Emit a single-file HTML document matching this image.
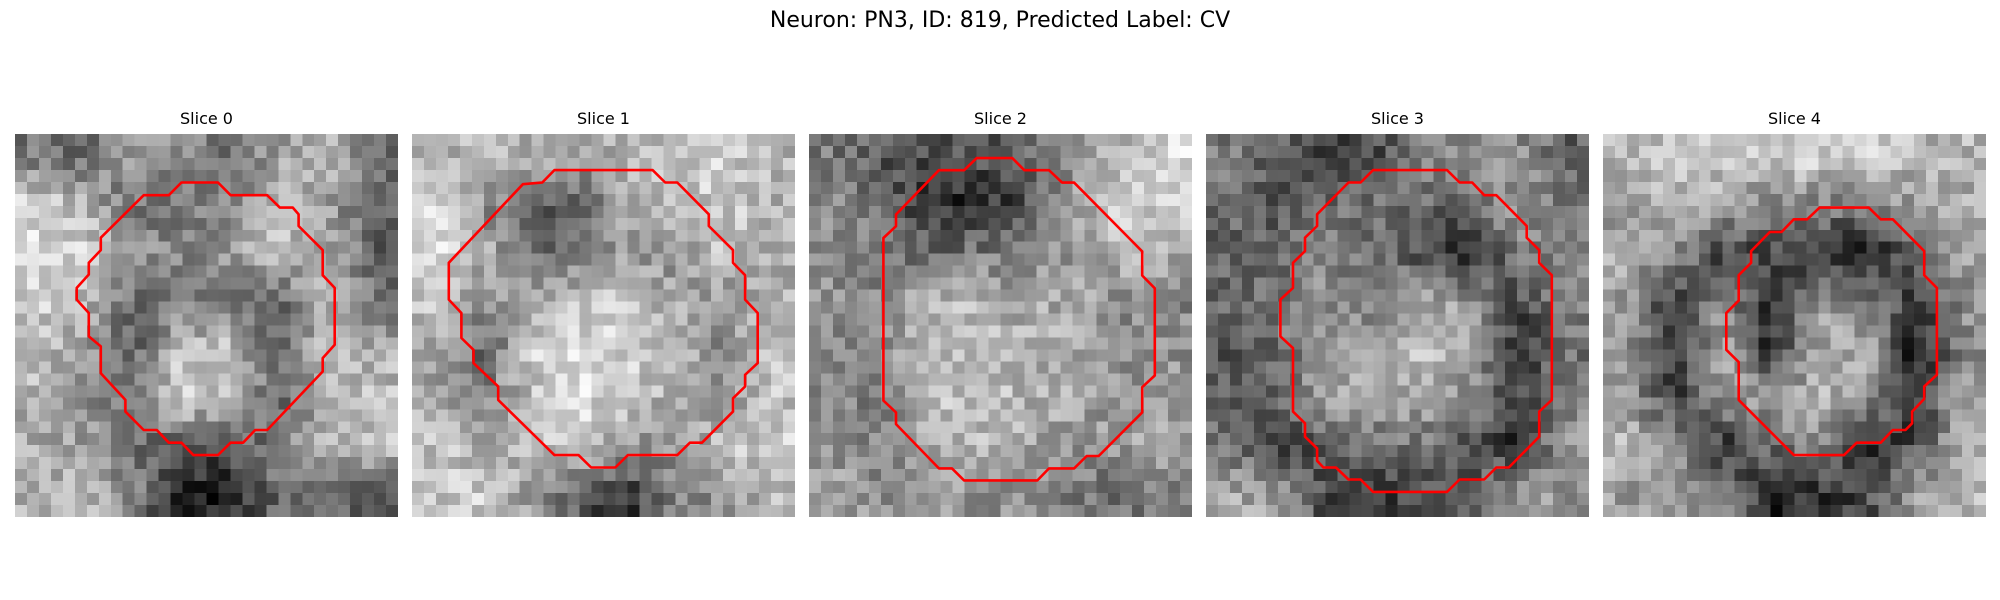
<!DOCTYPE html>
<html><head><meta charset="utf-8">
<style>
body{margin:0;width:2000px;height:600px;background:#fff;position:relative;overflow:hidden;font-family:"Liberation Sans","DejaVu Sans",sans-serif;}
#title{position:absolute;left:0;width:2000px;top:8px;text-align:center;font-size:22px;color:#000;font-family:"DejaVu Sans","Liberation Sans",sans-serif;}
.lab{position:absolute;top:109px;width:383px;text-align:center;font-size:16px;font-family:"DejaVu Sans","Liberation Sans",sans-serif;}
canvas.img{position:absolute;top:134px;width:383px;height:383px;image-rendering:pixelated;}
svg.ov{position:absolute;top:134px;width:383px;height:383px;}
</style></head><body>
<div id="title">Neuron: PN3, ID: 819, Predicted Label: CV</div>
<div id="root"></div>
<script>
const panelLefts=[15,412,809,1206,1603];
const sliceLabels=["Slice 0","Slice 1","Slice 2","Slice 3","Slice 4"];
const coarse0=[[120,110,150,140,110,150,170,110],[200,170,110,120,140,180,150,110],[200,190,150,130,150,170,170,100],[190,170,100,120,110,100,170,120],[180,150,100,180,180,100,180,160],[170,140,110,200,170,100,170,180],[160,150,110,100,90,120,170,180],[170,170,130,40,50,110,110,100]];
const coarse1=[[170,170,160,150,170,180,190,170],[210,140,100,100,170,180,190,170],[200,170,110,110,150,140,180,160],[180,130,170,190,180,160,140,170],[160,100,190,200,190,180,130,180],[160,130,180,200,190,160,150,180],[180,170,170,190,150,140,180,190],[180,190,150,90,60,130,140,170]];
const coarse2=[[120,90,80,90,100,140,170,200],[140,110,60,50,80,150,190,190],[130,120,110,120,130,140,170,160],[140,130,170,170,160,160,140,130],[140,130,180,180,170,160,140,140],[130,120,180,180,170,160,140,150],[140,130,150,170,160,140,150,160],[160,140,150,140,140,120,110,120]];
const coarse3=[[120,100,60,80,120,140,140,100],[110,90,110,120,110,100,150,110],[100,110,130,110,80,60,120,130],[110,120,140,120,170,140,80,120],[90,110,150,150,180,160,60,110],[100,100,150,160,160,140,70,120],[110,60,100,110,120,80,60,150],[160,150,80,70,80,100,150,140]];
const coarse4=[[170,180,180,190,190,190,170,170],[150,170,160,130,130,120,150,160],[160,140,70,80,60,40,100,150],[150,70,130,60,150,130,60,140],[140,60,170,50,160,160,40,130],[150,70,150,150,170,150,50,160],[170,130,60,110,140,60,80,170],[150,150,130,50,60,80,150,170]];
const coarseMaps=[coarse0,coarse1,coarse2,coarse3,coarse4];
const contourBounds=[[29,761,105,1250],[789,1518,105,1250],[17,748,105,1247],[776,1507,105,1250],[69,1215,105,1250]];
const contour0=[[275,288],[323,288],[347,250],[417,250],[441,288],[511,288],[535,325],[560,325],[571,345],[571,380],[617,452],[617,527],[640,565],[640,735],[617,775],[617,815],[511,990],[488,990],[465,1028],[441,1028],[417,1065],[370,1065],[347,1028],[323,1028],[300,990],[275,990],[240,935],[240,900],[193,820],[193,740],[170,710],[170,640],[147,600],[147,565],[170,525],[170,490],[193,452],[193,415]];
const contour1=[[1060,213],[1247,213],[1271,250],[1294,250],[1354,345],[1354,380],[1400,452],[1400,490],[1423,527],[1423,600],[1447,640],[1447,790],[1423,825],[1423,860],[1400,895],[1400,935],[1341,1028],[1318,1028],[1294,1065],[1200,1065],[1176,1102],[1130,1102],[1106,1065],[1060,1065],[953,900],[953,860],[906,790],[906,750],[883,715],[883,640],[859,600],[859,490],[1000,255],[1037,250]];
const contour2=[[337,177],[405,177],[428,213],[475,213],[500,250],[523,250],[653,455],[653,527],[677,565],[677,825],[653,860],[653,935],[570,1065],[547,1065],[523,1102],[475,1102],[453,1138],[313,1138],[290,1102],[265,1102],[183,970],[183,935],[159,900],[159,415],[183,380],[183,345],[265,213],[313,213]];
const contour3=[[1095,213],[1236,213],[1260,250],[1284,250],[1307,288],[1330,288],[1388,380],[1388,415],[1412,452],[1412,490],[1436,527],[1436,900],[1412,935],[1412,1010],[1354,1102],[1330,1102],[1307,1138],[1260,1138],[1236,1175],[1095,1175],[1071,1138],[1048,1138],[1024,1102],[1000,1102],[988,1082],[988,1045],[965,1010],[965,970],[942,935],[942,745],[918,710],[918,600],[942,565],[942,490],[965,455],[965,415],[988,380],[988,345],[1048,250],[1071,250]];
const contour4=[[717,325],[864,325],[900,360],[936,360],[1030,455],[1030,527],[1068,565],[1068,825],[1030,860],[1030,897],[994,935],[994,970],[974,990],[936,990],[900,1028],[828,1028],[790,1065],[640,1065],[475,900],[475,787],[438,750],[438,640],[475,603],[475,527],[512,490],[512,455],[568,398],[603,398],[640,360],[680,360]];
const contours=[contour0,contour1,contour2,contour3,contour4];

const N=32,S=383;
const root=document.getElementById('root');
function hash(i,j,k){let h=(i*374761393+j*668265263+k*2147483647)|0;h=(h^(h>>>13))*1274126177|0;return ((h^(h>>>16))&255)/255;}
function sample(m,x,y){
  const fx=Math.min(Math.max(x,0),7),fy=Math.min(Math.max(y,0),7);
  const x0=Math.floor(fx),y0=Math.floor(fy),x1=Math.min(x0+1,7),y1=Math.min(y0+1,7);
  const tx=fx-x0,ty=fy-y0;
  return (m[y0][x0]*(1-tx)+m[y0][x1]*tx)*(1-ty)+(m[y1][x0]*(1-tx)+m[y1][x1]*tx)*ty;
}
for(let k=0;k<5;k++){
  const lab=document.createElement('div');
  lab.className='lab';lab.style.left=panelLefts[k]+'px';lab.textContent=sliceLabels[k];
  
  
  root.appendChild(lab);
  const c=document.createElement('canvas');
  c.width=N;c.height=N;c.className='img';c.style.left=panelLefts[k]+'px';
  
  
  const ctx=c.getContext('2d');const id=ctx.createImageData(N,N);
  for(let j=0;j<N;j++)for(let i=0;i<N;i++){
    let v=sample(coarseMaps[k],(i+0.5)*8/N-0.5,(j+0.5)*8/N-0.5)+(hash(i,j,k)-0.5)*60;
    v=140+(v-140)*1.2+5;
    v=Math.max(0,Math.min(255,v));const p=(j*N+i)*4;
    id.data[p]=id.data[p+1]=id.data[p+2]=v;id.data[p+3]=255;
  }
  ctx.putImageData(id,0,0);root.appendChild(c);
  const ns='http://www.w3.org/2000/svg';
  const svg=document.createElementNS(ns,'svg');
  svg.setAttribute('class','ov');svg.setAttribute('viewBox','0 0 383 383');svg.style.left=panelLefts[k]+'px';
  
  
  const b=contourBounds[k];
  const pts=contours[k].map(p=>((p[0]-b[0])/(b[1]-b[0])*S).toFixed(1)+','+((p[1]-b[2])/(b[3]-b[2])*S).toFixed(1)).join(' ');
  const pl=document.createElementNS(ns,'polygon');
  pl.setAttribute('points',pts);pl.setAttribute('fill','none');pl.setAttribute('stroke','#ff0000');pl.setAttribute('stroke-width','2.6');pl.setAttribute('stroke-linejoin','round');
  
  
  svg.appendChild(pl);root.appendChild(svg);
}
</script>
</body></html>
